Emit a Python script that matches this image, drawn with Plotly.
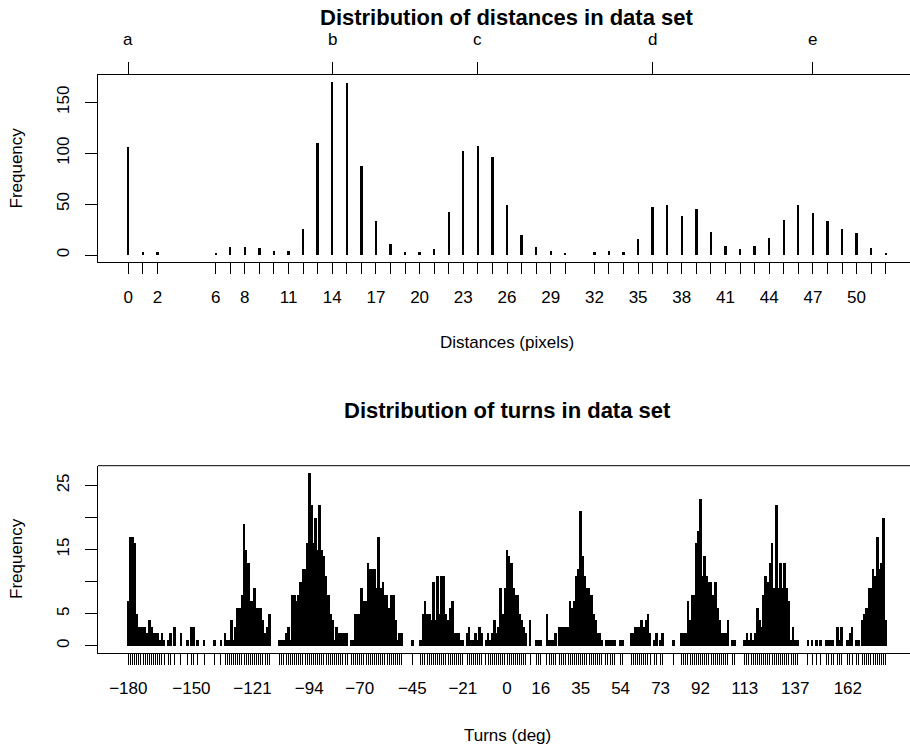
import plotly.graph_objects as go

# ---------------- data ----------------
dist_values = [0, 1, 2, 6, 7, 8, 9, 10, 11, 12, 13, 14, 15, 16, 17, 18, 19, 20, 21, 22,
               23, 24, 25, 26, 27, 28, 29, 30, 32, 33, 34, 35, 36, 37, 38, 39, 40, 41,
               42, 43, 44, 45, 46, 47, 48, 49, 50, 51, 52]
dist_freq = [106, 3, 3, 2, 8, 8, 7, 4, 4, 26, 110, 170, 169, 87, 33, 11, 3, 3, 6, 42,
             102, 107, 96, 49, 20, 8, 4, 2, 3, 4, 3, 16, 47, 49, 38, 45, 23, 9,
             6, 9, 17, 34, 49, 41, 33, 26, 22, 7, 2]
dist_tick_labels = [0, 2, 6, 8, 11, 14, 17, 20, 23, 26, 29, 32, 35, 38, 41, 44, 47, 50]
group_pos = [0, 14, 24, 36, 47]
group_labels = ["a", "b", "c", "d", "e"]
dist_yticks = [0, 50, 100, 150]

turn_deg = [
    -180, -179, -178, -177, -176, -175, -174, -173, -172, -171, -170, -169, -168, -167, -166, -165,
    -164, -163, -161, -160, -158, -155, -152, -150, -149, -147, -144, -139, -136,
    -134, -133, -132, -131, -130, -129, -128, -127, -126, -125, -124, -123, -122, -121, -120,
    -119, -118, -117, -116, -115, -114, -113,
    -108, -107, -106, -105, -104, -103, -102, -101, -100, -99, -98, -97, -96, -95, -94, -93,
    -92, -91, -90, -89, -88, -87, -86, -85, -84, -83, -82, -81, -80, -79, -78, -77, -76,
    -74, -73, -72, -71, -70, -69, -68, -67, -66, -65, -64, -63, -62, -61, -60, -59, -58,
    -57, -56, -55, -54, -53, -52, -51, -50,
    -45, -41, -40, -39, -38, -37, -36, -35, -34, -33, -32, -31, -30, -29, -28, -27, -26,
    -25, -24, -23,
    -22, -21, -19, -18, -17, -16, -15, -14, -13, -12, -10, -9, -8, -7, -6, -5, -4, -3, -2,
    -1, 0, 1, 2, 3, 4, 5, 6, 7, 8, 9, 11, 14, 15, 16, 19, 20, 21, 22, 23,
    25, 26, 27, 28, 29, 30, 31, 32, 33, 34, 35, 36, 37, 38, 39, 40, 41, 42, 43, 44, 45,
    47, 48, 49, 50, 51, 54, 55,
    59, 60, 61, 62, 63, 64, 65, 66, 67, 68, 70, 71, 73, 74, 79,
    83, 84, 85, 86, 87, 88, 89, 90, 91, 92, 93, 94, 95, 96, 97, 98, 99, 100, 101, 102,
    103, 104, 105, 107, 108,
    113, 114, 115, 116, 117, 118, 119, 120, 121, 122, 123, 124, 125, 126, 127, 128, 129,
    130, 131, 132, 133, 134, 135, 136, 137, 138,
    143, 145, 147, 149, 152, 153, 154, 155, 157, 158, 159, 162, 163, 164, 166, 167,
    169, 170, 171, 172, 173, 174, 175, 176, 177, 178, 179, 180,
]
turn_freq = [
    7, 17, 17, 16, 5, 3, 3, 3, 3, 2, 4, 3, 2, 2, 2, 1,
    2, 1, 1, 2, 3, 2, 1, 3, 3, 1, 1, 1, 1,
    2, 1, 1, 4, 1, 3, 6, 6, 8, 19, 15, 13, 7, 7, 9,
    6, 6, 6, 4, 2, 3, 5,
    1, 1, 1, 2, 3, 1, 8, 8, 7, 8, 10, 12, 12, 16, 27, 22,
    16, 20, 15, 22, 15, 14, 11, 8, 5, 4, 1, 3, 2, 2, 2, 2, 2,
    1, 1, 5, 5, 5, 9, 7, 7, 13, 12, 12, 12, 9, 17, 9, 10, 8,
    8, 6, 8, 8, 4, 1, 2, 2,
    1, 1, 5, 7, 5, 5, 4, 10, 4, 11, 5, 11, 11, 5, 4, 6, 7,
    2, 2, 2,
    1, 1, 2, 3, 1, 1, 2, 1, 3, 2, 1, 2, 1, 2, 4, 2, 3, 9, 5,
    9, 15, 14, 13, 9, 8, 8, 5, 4, 3, 2, 4, 1, 1, 1, 5, 1, 1, 1, 2,
    3, 3, 3, 3, 3, 7, 6, 7, 11, 12, 21, 14, 11, 9, 9, 8, 5, 4, 2, 2, 1,
    1, 1, 1, 1, 1, 1, 1,
    2, 2, 3, 3, 3, 4, 3, 4, 5, 2, 1, 2, 1, 2, 1,
    2, 2, 2, 7, 4, 8, 8, 16, 18, 23, 11, 14, 11, 10, 10, 8, 10, 6, 4, 2,
    2, 2, 4, 1, 1,
    1, 2, 1, 2, 1, 2, 6, 4, 3, 8, 11, 10, 13, 16, 9, 22, 9,
    13, 9, 13, 9, 7, 1, 3, 1, 1,
    1, 1, 1, 1, 1, 1, 1, 1, 3, 1, 3, 1, 2, 3, 1, 1,
    4, 5, 6, 9, 9, 12, 11, 17, 12, 13, 20, 4,
]
turn_tick_labels = [-180, -150, -121, -94, -70, -45, -21, 0, 16, 35, 54, 73, 92, 113, 137, 162]
turn_yticks = [0, 5, 10, 15, 20, 25]
turn_ylabels = ["0", "5", "", "15", "", "25"]

# ---------------- layout helpers ----------------
W, H = 910, 748
FONT = "Liberation Sans, Arial, Helvetica, sans-serif"


def px(x):
    return x / W


def py(y):
    return 1 - y / H


def lab(v):
    return str(v).replace("-", "\u2212")


x_dom = [px(98), 1.0]
top_dom = [py(262), py(75)]
bot_dom = [py(652.7), py(465.7)]

# x ranges (R style 4% padding; plot region runs past the right edge)
d_lo, d_hi = min(dist_values), max(dist_values)
d_pad = 0.04 * (d_hi - d_lo)
d_rng = [d_lo - d_pad, d_lo - d_pad + (d_hi - d_lo + 2 * d_pad) * (812 / 818)]
t_lo, t_hi = min(turn_deg), max(turn_deg)
t_pad = 0.04 * (t_hi - t_lo)
t_rng = [t_lo - t_pad, t_lo - t_pad + (t_hi - t_lo + 2 * t_pad) * (812 / 818)]
dy_pad = 0.04 * max(dist_freq)
ty_pad = 0.04 * max(turn_freq)

fig = go.Figure()
fig.add_trace(go.Bar(x=dist_values, y=dist_freq, width=0.16,
                     marker=dict(color="black", line=dict(width=0)),
                     xaxis="x", yaxis="y", hoverinfo="x+y"))
# invisible helper so the top (a..e) axis gets drawn
fig.add_trace(go.Scatter(x=group_pos, y=[0] * len(group_pos), mode="markers",
                         marker=dict(opacity=0), xaxis="x3", yaxis="y", hoverinfo="skip"))
fig.add_trace(go.Bar(x=turn_deg, y=turn_freq, width=1.28,
                     marker=dict(color="black", line=dict(width=0)),
                     xaxis="x2", yaxis="y2", hoverinfo="x+y"))

tickfont = dict(family=FONT, size=17, color="black")
common = dict(showgrid=False, zeroline=False, ticks="outside", tickcolor="black",
              tickwidth=1, linecolor="black", linewidth=1, tickfont=tickfont)

fig.update_layout(
    width=W, height=H,
    margin=dict(l=0, r=0, t=0, b=0),
    paper_bgcolor="white", plot_bgcolor="white",
    showlegend=False, bargap=0,
    font=dict(family=FONT, color="black"),
    xaxis=dict(domain=x_dom, anchor="y", range=d_rng,
               tickmode="array", tickvals=dist_values,
               ticktext=[lab(v) if v in dist_tick_labels else "" for v in dist_values],
               ticklen=11, tickangle=0, showline=True, ticklabelstandoff=9, **common),
    xaxis3=dict(overlaying="x", anchor="y", side="top", range=d_rng,
                tickmode="array", tickvals=group_pos, ticktext=[""] * len(group_pos),
                ticklen=12, tickangle=0, showline=True, **common),
    yaxis=dict(domain=top_dom, anchor="x", range=[-dy_pad, max(dist_freq) + dy_pad],
               tickmode="array", tickvals=dist_yticks, ticktext=[lab(v) for v in dist_yticks],
               ticklen=12, tickangle=-90, showline=True, ticklabelstandoff=9, **common),
    xaxis2=dict(domain=x_dom, anchor="y2", range=t_rng,
                tickmode="array", tickvals=turn_deg,
                ticktext=[lab(v) if v in turn_tick_labels else "" for v in turn_deg],
                ticklen=11, tickangle=0, showline=True, ticklabelstandoff=9, **common),
    yaxis2=dict(domain=bot_dom, anchor="x2", range=[-ty_pad, max(turn_freq) + ty_pad],
                tickmode="array", tickvals=turn_yticks, ticktext=turn_ylabels,
                ticklen=12, tickangle=-90, showline=True, ticklabelstandoff=9, **common),
    shapes=[dict(type="line", xref="paper", yref="paper",
                 x0=px(98), x1=1.0, y0=bot_dom[1], y1=bot_dom[1],
                 line=dict(color="black", width=1))],
)

ann = []
ann.append(dict(text="<b>Distribution of distances in data set</b>", x=px(507), y=py(18),
                font=dict(size=22, family=FONT, color="black")))
ann.append(dict(text="<b>Distribution of turns in data set</b>", x=px(507), y=py(410),
                font=dict(size=22, family=FONT, color="black")))
ann.append(dict(text="Distances (pixels)", x=px(507), y=py(343),
                font=dict(size=17, family=FONT, color="black")))
ann.append(dict(text="Turns (deg)", x=px(507), y=py(735),
                font=dict(size=17, family=FONT, color="black")))
ann.append(dict(text="Frequency", x=px(16), y=py(168.5), textangle=-90,
                font=dict(size=17, family=FONT, color="black")))
ann.append(dict(text="Frequency", x=px(16), y=py(559), textangle=-90,
                font=dict(size=17, family=FONT, color="black")))
for a in ann:
    a.update(xref="paper", yref="paper", showarrow=False, xanchor="center", yanchor="middle")
# group letters above the top axis, positioned through the x scale
for g, t in zip(group_pos, group_labels):
    ann.append(dict(text=t, x=g, xref="x", y=py(40), yref="paper", showarrow=False,
                    xanchor="center", yanchor="middle",
                    font=dict(size=17, family=FONT, color="black")))
fig.update_layout(annotations=ann)

fig.write_html("out.html", config={"displayModeBar": False},
               post_script="document.body.style.margin='0';")
